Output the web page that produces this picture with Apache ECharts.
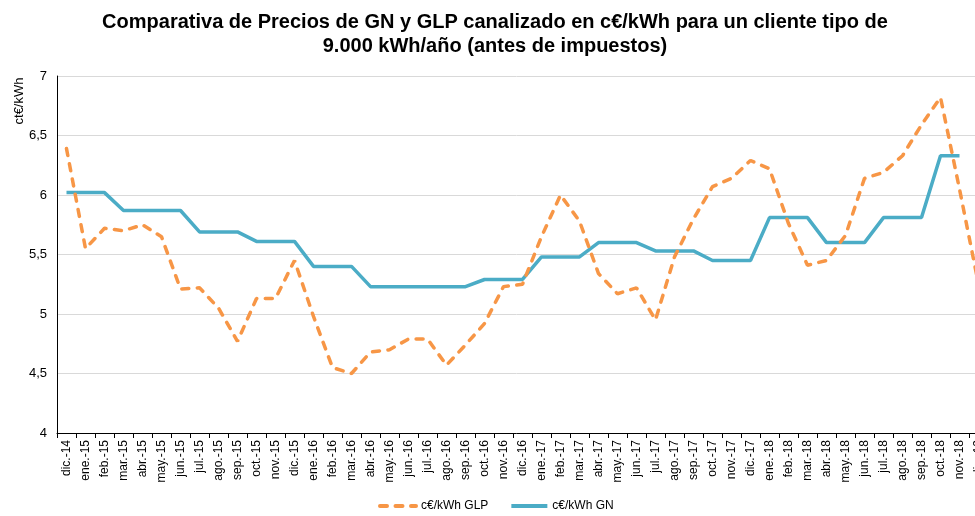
<!DOCTYPE html>
<html>
<head>
<meta charset="utf-8">
<script src="https://cdn.jsdelivr.net/npm/echarts@6/dist/echarts.min.js"></script>
<style>
  html, body { margin: 0; padding: 0; background: #fff; }
  #chart { width: 975px; height: 516px; }
</style>
</head>
<body>
<div id="chart"></div>
<script>
// meses dic.-14 .. dic.-18
const months = [
  'dic.-14',
  'ene.-15', 'feb.-15', 'mar.-15', 'abr.-15', 'may.-15', 'jun.-15', 'jul.-15', 'ago.-15', 'sep.-15', 'oct.-15', 'nov.-15', 'dic.-15',
  'ene.-16', 'feb.-16', 'mar.-16', 'abr.-16', 'may.-16', 'jun.-16', 'jul.-16', 'ago.-16', 'sep.-16', 'oct.-16', 'nov.-16', 'dic.-16',
  'ene.-17', 'feb.-17', 'mar.-17', 'abr.-17', 'may.-17', 'jun.-17', 'jul.-17', 'ago.-17', 'sep.-17', 'oct.-17', 'nov.-17', 'dic.-17',
  'ene.-18', 'feb.-18', 'mar.-18', 'abr.-18', 'may.-18', 'jun.-18', 'jul.-18', 'ago.-18', 'sep.-18', 'oct.-18', 'nov.-18', 'dic.-18'
];

const glpValues = [
  6.39, 5.55, 5.72, 5.70, 5.75, 5.65, 5.21, 5.22, 5.05, 4.77, 5.13, 5.13, 5.45,
  4.98, 4.55, 4.50, 4.68, 4.70, 4.79, 4.79, 4.57, 4.74, 4.92, 5.23, 5.25,
  5.65, 6.00, 5.78, 5.34, 5.17, 5.22, 4.95, 5.48, 5.80, 6.07, 6.14, 6.29,
  6.22, 5.76, 5.41, 5.45, 5.66, 6.14, 6.19, 6.33, 6.59, 6.82, 6.05, 5.25
];

const gnValues = [
  6.02, 6.02, 6.02, 5.87, 5.87, 5.87, 5.87, 5.69, 5.69, 5.69, 5.61, 5.61, 5.61,
  5.40, 5.40, 5.40, 5.23, 5.23, 5.23, 5.23, 5.23, 5.23, 5.29, 5.29, 5.29,
  5.48, 5.48, 5.48, 5.60, 5.60, 5.60, 5.53, 5.53, 5.53, 5.45, 5.45, 5.45,
  5.81, 5.81, 5.81, 5.60, 5.60, 5.60, 5.81, 5.81, 5.81, 6.33, 6.33, null
];

const yTicks = [4, 4.5, 5, 5.5, 6, 6.5, 7];

const font = 'Liberation Sans, Arial, sans-serif';
const chart = echarts.init(document.getElementById('chart'));

chart.setOption({
  animation: false,
  textStyle: { fontFamily: font },
  title: {
    text: 'Comparativa de Precios de GN y GLP canalizado en c€/kWh para un cliente tipo de\n9.000 kWh/año (antes de impuestos)',
    left: 490,
    textAlign: 'center',
    top: 5,
    textStyle: {
      fontFamily: font,
      fontSize: 20,
      fontWeight: 'bold',
      color: '#000',
      lineHeight: 24
    }
  },
  legend: {
    top: 495,
    left: 373,
    itemWidth: 36,
    itemHeight: 8,
    itemGap: 21,
    itemStyle: { opacity: 0 },
    lineStyle: { width: 4 },
    textStyle: { fontFamily: font, fontSize: 12, color: '#000' },
    data: ['c€/kWh GLP', 'c€/kWh GN']
  },
  grid: {
    left: 57,
    top: 76,
    width: 931,
    bottom: 83,
    outerBoundsMode: 'none'
  },
  xAxis: {
    type: 'category',
    data: months,
    boundaryGap: true,
    axisLine: { lineStyle: { color: '#000', width: 1 } },
    axisTick: { show: true, length: 5, lineStyle: { color: '#000' } },
    axisLabel: {
      interval: 0,
      rotate: 90,
      margin: 7,
      fontSize: 12,
      color: '#000',
      fontFamily: font
    },
    splitLine: { show: false }
  },
  yAxis: {
    type: 'value',
    min: yTicks[0],
    max: yTicks[yTicks.length - 1],
    interval: 0.5,
    axisLine: { show: true, lineStyle: { color: '#000', width: 1 } },
    axisTick: { show: false },
    axisLabel: {
      margin: 10,
      fontSize: 13,
      color: '#000',
      fontFamily: font,
      formatter: v => String(v).replace('.', ',')
    },
    splitLine: { lineStyle: { color: '#d9d9d9', width: 1 } }
  },
  graphic: [
    {
      type: 'text',
      x: 19,
      y: 101,
      rotation: Math.PI / 2,
      style: {
        text: 'ct€/kWh',
        fontFamily: font,
        fontSize: 13,
        fill: '#000',
        align: 'center',
        verticalAlign: 'middle'
      }
    }
  ],
  series: [
    {
      name: 'c€/kWh GLP',
      type: 'line',
      data: glpValues,
      symbol: 'none',
      itemStyle: { color: '#f79646' },
      lineStyle: { color: '#f79646', width: 3.5, type: [7, 8.5], cap: 'round' },
      z: 3
    },
    {
      name: 'c€/kWh GN',
      type: 'line',
      data: gnValues,
      symbol: 'none',
      itemStyle: { color: '#4bacc6' },
      lineStyle: { color: '#4bacc6', width: 3.5 },
      z: 2
    }
  ]
});
</script>
</body>
</html>
